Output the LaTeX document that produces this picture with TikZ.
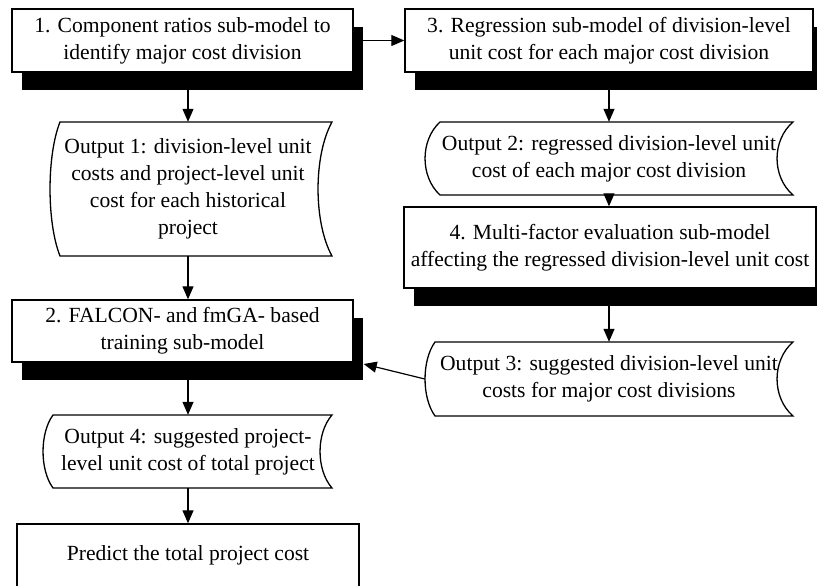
\documentclass[tikz,border=0pt]{standalone}
\usepackage{fontspec}
\setmainfont{Liberation Serif}
\usetikzlibrary{arrows.meta,calc,shadows}
\newcommand\fs{\fontsize{21.6}{27}\selectfont}
% #1 left corner x, #2 right corner x, #3 top y, #4 bottom y, #5 left bulge, #6 right inward bulge
\newcommand\tapeshape[6]{%
  \draw[line width=1.3pt, fill=white] (#1,#3) -- (#2,#3)
    .. controls ({#2-1.33*#6},{#3+0.25*(#4-#3)}) and ({#2-1.33*#6},{#4-0.25*(#4-#3)}) .. (#2,#4)
    -- (#1,#4)
    .. controls ({#1-1.33*#5},{#4-0.25*(#4-#3)}) and ({#1-1.33*#5},{#3+0.25*(#4-#3)}) .. (#1,#3) -- cycle;}
\begin{document}
\begin{tikzpicture}[x=1pt,y=-1pt,
  box/.style={draw, line width=1.4pt, fill=white, minimum width=#1, minimum height=63pt,
     inner sep=0pt, align=center, font=\fs,
     drop shadow={shadow xshift=10pt, shadow yshift=-18pt, opacity=1, fill=black}},
  plainbox/.style={draw, line width=1.4pt, fill=white, minimum width=#1, minimum height=63pt,
     inner sep=0pt, align=center, font=\fs},
  tapetext/.style={inner sep=0pt, align=center, font=\fs},
  arr/.style={line width=1.2pt, -{Triangle[length=13pt,width=11pt]}}]
\useasboundingbox (0,0) rectangle (817,586);
\clip (0,0) rectangle (817,586);
\fill[white] (0,0) rectangle (817,586);

\coordinate (cL) at (188,0);
\coordinate (cR) at (609,0);

% shadowed boxes
\node[box=341pt] (b1) at (182.5,40.5) {1. Component ratios sub-model to\\identify major cost division};
\node[box=408pt] (b3) at (609,40.5) {3. Regression sub-model of division-level\\unit cost for each major cost division};
\node[box=412pt, minimum height=81pt] (b4) at (610,247.5) {4. Multi-factor evaluation sub-model\\affecting the regressed division-level unit cost};
\node[box=341pt, minimum height=62pt] (b2) at (182.5,331) {2. FALCON- and fmGA- based\\training sub-model};
\node[plainbox=342pt] (b5) at (188,555.5) {Predict the total project cost};

% stored-data shapes
\tapeshape{60}{332}{122}{256}{10}{14}
\node[tapetext, minimum height=134pt] (o1) at (188,189) {Output 1: division-level unit\\costs and project-level unit\\cost for each historical\\project};
\tapeshape{440}{793}{122}{195}{15}{16}
\node[tapetext, minimum height=73pt] (o2) at (609,158.5) {Output 2: regressed division-level unit\\cost of each major cost division};
\tapeshape{435}{793}{342}{416}{10}{16}
\node[tapetext, minimum height=74pt, minimum width=368pt] (o3) at (609,379) {Output 3: suggested division-level unit\\costs for major cost divisions};
\tapeshape{53}{332}{415}{488}{10}{12}
\node[tapetext, minimum height=73pt] (o4) at (188,451.5) {Output 4: suggested project-\\level unit cost of total project};

% connectors
\draw[arr] (b1.east) -- (b3.west);
\draw[arr] (b1.south -| cL) -- (o1.north -| cL);
\draw[arr] (o1.south -| cL) -- (b2.north -| cL);
\draw[arr] (b2.south -| cL) -- (o4.north -| cL);
\draw[arr] (o4.south -| cL) -- (b5.north -| cL);
\draw[arr] (b3.south -| cR) -- (o2.north -| cR);
\draw[arr] (o2.south -| cR) -- (b4.north -| cR);
\draw[arr] (b4.south -| cR) -- (o3.north -| cR);
\draw[arr] (o3.west) -- ([shift={(10pt,-33pt)}]b2.east);
\end{tikzpicture}
\end{document}
